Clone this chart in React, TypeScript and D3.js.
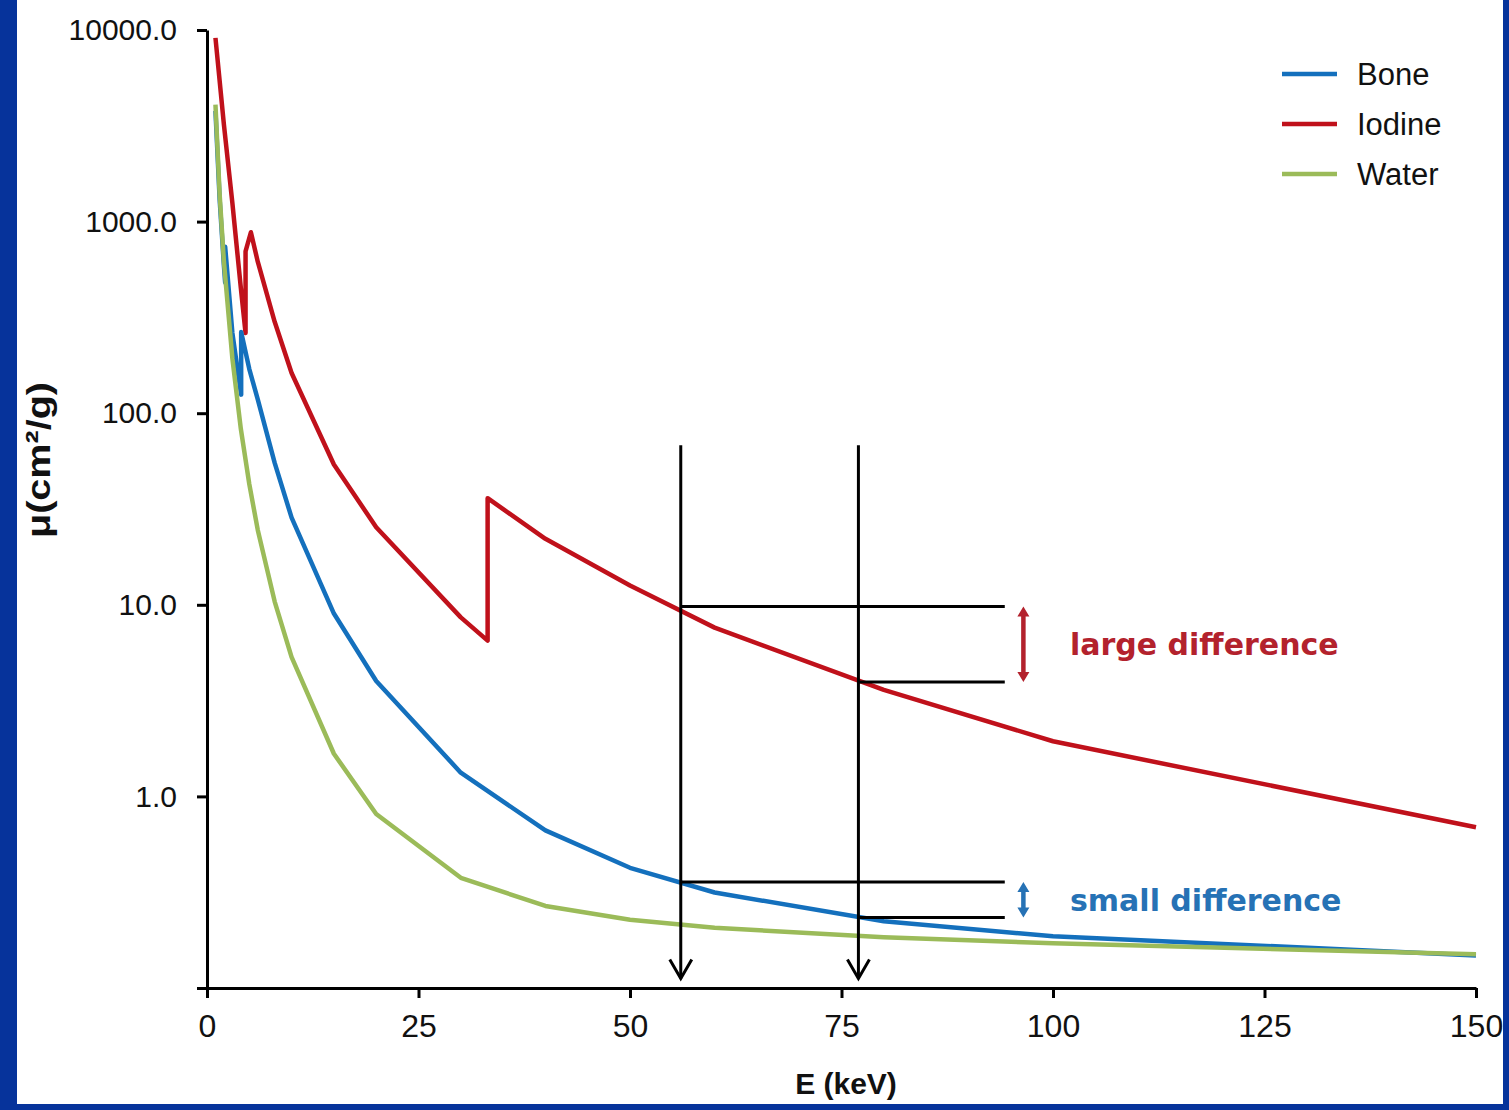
import React, { useEffect, useRef } from 'react';
import * as d3 from 'd3';

// axis ticks
const energyTicks = [0, 25, 50, 75, 100, 125, 150];
const muTicks = [0.1, 1, 10, 100, 1000, 10000];

// mass attenuation coefficients (cm2/g), edges as repeated energies
const boneEnergy = [1, 1.5, 2, 2.146, 2.146, 3, 4, 4.038, 4.038, 5, 6, 8, 10, 15, 20, 30, 40, 50, 60, 80, 100, 150];
const boneMu = [3781, 1295, 587, 480, 740, 262, 128, 125, 265, 170, 118, 55, 28.5, 9.0, 4.0, 1.33, 0.665, 0.424, 0.315, 0.223, 0.186, 0.148];

const iodineEnergy = [1, 2, 3, 4, 4.557, 4.557, 5.188, 6, 8, 10, 15, 20, 30, 33.17, 33.17, 40, 50, 60, 80, 100, 150];
const iodineMu = [9100, 3200, 1250, 450, 262, 700, 880, 618, 300, 162, 54, 25.4, 8.6, 6.5, 36, 22.1, 12.6, 7.6, 3.6, 1.94, 0.69];

const waterEnergy = [1, 1.5, 2, 3, 4, 5, 6, 8, 10, 15, 20, 30, 40, 50, 60, 80, 100, 150];
const waterMu = [4078, 1376, 617, 193, 82.8, 42.6, 24.6, 10.4, 5.33, 1.67, 0.81, 0.376, 0.268, 0.227, 0.206, 0.184, 0.171, 0.15];

const seriesNames = ['Bone', 'Iodine', 'Water'];
const seriesColors = ['#1470bd', '#c0111b', '#9bbb59'];

// two chosen energies and the values marked at them
const markerEnergy = [56, 77];
const iodineAtMarker = [9.8, 3.95];
const boneAtMarker = [0.357, 0.233];
const markerTop = 68;
const markerTip = 0.112;
const guideEnd = 94.3;
const bracketEnergy = 96.5;

const App = () => {
  const ref = useRef(null);

  useEffect(() => {
    const W = 1509;
    const H = 1110;

    d3.select(ref.current).select('svg').remove();

    const svg = d3
      .select(ref.current)
      .append('svg')
      .attr('width', W)
      .attr('height', H)
      .style('position', 'absolute')
      .style('left', '0px')
      .style('top', '0px');

    // frame
    svg.append('rect').attr('width', W).attr('height', H).attr('fill', '#06339b');
    svg.append('rect').attr('x', 17).attr('y', 0).attr('width', 1486).attr('height', 1104).attr('fill', '#fff');

    const x = d3.scaleLinear().domain([0, 150]).range([207, 1476]);
    const y = d3.scaleLog().domain([0.1, 10000]).range([988, 30]);

    // y axis
    const yAxis = svg
      .append('g')
      .attr('transform', `translate(${x(0)},0)`)
      .call(
        d3.axisLeft(y)
          .tickValues(muTicks)
          .tickFormat(d => (d < 1 ? '' : d3.format('.1f')(d)))
          .tickSize(10)
          .tickSizeOuter(0)
          .tickPadding(20)
      );
    yAxis.selectAll('path, line').attr('stroke', '#000').attr('stroke-width', 3);
    yAxis.selectAll('text')
      .attr('fill', '#111')
      .style('font-family', '"Liberation Sans", Arial, sans-serif')
      .style('font-size', '30px');

    // x axis
    const xAxis = svg
      .append('g')
      .attr('transform', `translate(0,${y(0.1)})`)
      .call(
        d3.axisBottom(x)
          .tickValues(energyTicks)
          .tickSize(10)
          .tickSizeOuter(0)
          .tickPadding(16)
      );
    xAxis.selectAll('path, line').attr('stroke', '#000').attr('stroke-width', 3);
    xAxis.selectAll('text')
      .attr('fill', '#111')
      .style('font-family', '"Liberation Sans", Arial, sans-serif')
      .style('font-size', '32px');

    // axis titles
    svg.append('text')
      .attr('x', 846)
      .attr('y', 1094)
      .attr('text-anchor', 'middle')
      .attr('fill', '#111')
      .style('font-family', '"Liberation Sans", Arial, sans-serif')
      .style('font-weight', 'bold')
      .style('font-size', '30px')
      .text('E (keV)');

    svg.append('text')
      .attr('transform', 'translate(50,460) rotate(-90)')
      .attr('text-anchor', 'middle')
      .attr('fill', '#111')
      .attr('textLength', 156)
      .attr('lengthAdjust', 'spacingAndGlyphs')
      .style('font-family', '"Liberation Sans", Arial, sans-serif')
      .style('font-weight', 'bold')
      .style('font-size', '34px')
      .text('μ(cm²/g)');

    // curves
    const line = d3.line<[number, number]>()
      .x(d => x(d[0]))
      .y(d => y(d[1]));

    const series = [
      { e: iodineEnergy, mu: iodineMu, color: seriesColors[1] },
      { e: boneEnergy, mu: boneMu, color: seriesColors[0] },
      { e: waterEnergy, mu: waterMu, color: seriesColors[2] },
    ];

    series.forEach(s => {
      svg.append('path')
        .datum(s.e.map((e, i) => [e, s.mu[i]] as [number, number]))
        .attr('d', line)
        .attr('fill', 'none')
        .attr('stroke', s.color)
        .attr('stroke-width', 4.5)
        .attr('stroke-linejoin', 'round');
    });

    // marker lines
    const ann = svg.append('g').attr('stroke', '#000').attr('stroke-width', 3).attr('fill', 'none');
    markerEnergy.forEach(e => {
      ann.append('line')
        .attr('x1', x(e)).attr('x2', x(e))
        .attr('y1', y(markerTop)).attr('y2', y(markerTip));
      ann.append('path')
        .attr('d', `M${x(e) - 11},${y(markerTip) - 19}L${x(e)},${y(markerTip)}L${x(e) + 11},${y(markerTip) - 19}`);
    });
    [iodineAtMarker, boneAtMarker].forEach(vals => {
      vals.forEach((v, i) => {
        ann.append('line')
          .attr('x1', x(markerEnergy[i])).attr('x2', x(guideEnd))
          .attr('y1', y(v)).attr('y2', y(v));
      });
    });

    // double arrows and labels
    const brackets = [
      { vals: iodineAtMarker, color: '#b3222d', label: 'large difference' },
      { vals: boneAtMarker, color: '#2672b5', label: 'small difference' },
    ];
    brackets.forEach(b => {
      const bx = x(bracketEnergy);
      const y1 = y(b.vals[0]);
      const y2 = y(b.vals[1]);
      svg.append('line')
        .attr('x1', bx).attr('x2', bx)
        .attr('y1', y1 + 6).attr('y2', y2 - 6)
        .attr('stroke', b.color)
        .attr('stroke-width', 4.5);
      svg.append('path')
        .attr('d', `M${bx},${y1}L${bx - 6},${y1 + 10}L${bx + 6},${y1 + 10}Z M${bx},${y2}L${bx - 6},${y2 - 10}L${bx + 6},${y2 - 10}Z`)
        .attr('fill', b.color);
      svg.append('text')
        .attr('x', 1070)
        .attr('y', (y1 + y2) / 2 + 11)
        .attr('fill', b.color)
        .style('font-family', '"DejaVu Sans", Verdana, sans-serif')
        .style('font-weight', 'bold')
        .style('font-size', '30px')
        .text(b.label);
    });

    // legend
    const legend = svg.append('g').attr('transform', 'translate(1282,74)');
    seriesNames.forEach((name, i) => {
      const row = legend.append('g').attr('transform', `translate(0,${i * 50})`);
      row.append('line')
        .attr('x1', 0).attr('x2', 55)
        .attr('stroke', seriesColors[i])
        .attr('stroke-width', 4.5);
      row.append('text')
        .attr('x', 75)
        .attr('y', 11)
        .attr('fill', '#111')
        .style('font-family', '"Liberation Sans", Arial, sans-serif')
        .style('font-size', '31px')
        .text(name);
    });
  }, []);

  return <div ref={ref}></div>;
};

export default App;
